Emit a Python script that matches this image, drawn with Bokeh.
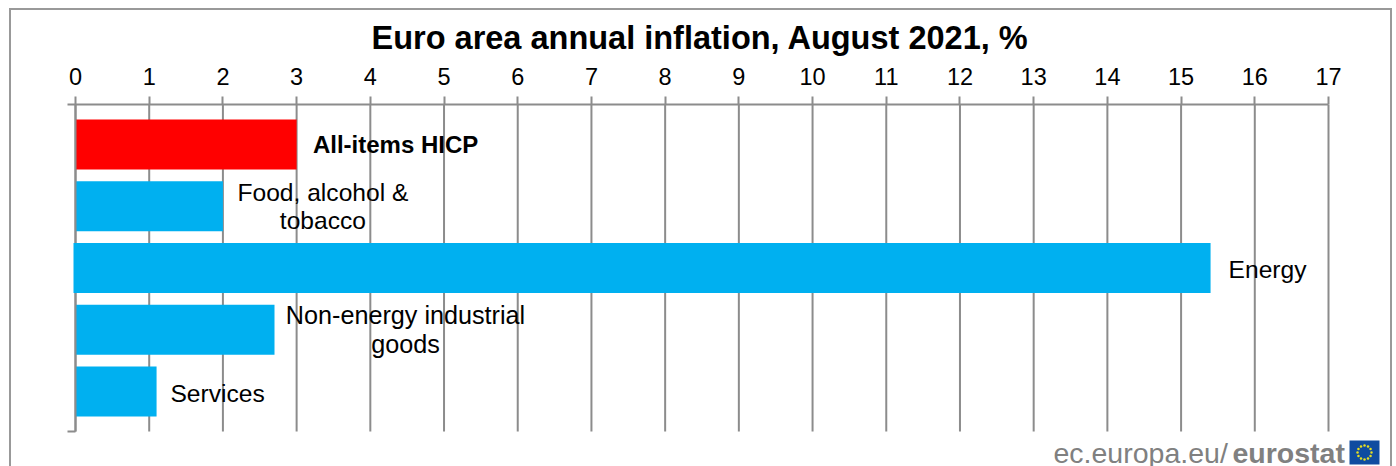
import math
from bokeh.plotting import figure
from bokeh.embed import file_html
from bokeh.resources import INLINE
from bokeh.models import Range1d, FixedTicker, Label, ColumnDataSource
from bokeh.core.properties import value

categories = ["All-items HICP", "Food, alcohol &\ntobacco", "Energy", "Non-energy industrial\ngoods", "Services"]
values = [3.0, 2.0, 15.4, 2.7, 1.1]
bar_colors = ["#FF0000", "#00B0F0", "#00B0F0", "#00B0F0", "#00B0F0"]
label_styles = ["bold", "normal", "normal", "normal", "normal"]
label_sizes = ["24px", "24.6px", "24.6px", "25.2px", "24.6px"]
x_ticks = list(range(0, 18))
title_text = "Euro area annual inflation, August 2021, %"

# layout only
label_x_offsets = [99, 100, 57, 131, 61]
label_y_offsets = [0, 0, 1, 0, 2]
GRAY = "#8C8C8C"
FONT = "Liberation Sans"
W, H = 1396, 466
X_PX = 1253 / 17  # pixels per x unit
Y_PX = 61.75      # pixels per y unit
def dx(px): return (px - 75) / X_PX
def dy(py): return 0.5 + (py - 144) / Y_PX

y_top, y_bot = dy(104), dy(431)
positions = [i + 0.5 for i in range(len(categories))]

# The plot frame runs to the page's edges, so the signature below the axis is not clipped away.
edge = "linear-gradient(#999999,#999999)"
frame_css = (f"{edge} 9px 8px / 2px 100% no-repeat, "
             f"{edge} 1390px 8px / 2px 100% no-repeat, "
             f"{edge} 9px 8px / 1383px 2px no-repeat")

p = figure(width=W, height=H,
           x_range=Range1d(dx(0), dx(W)), y_range=Range1d(dy(H), dy(104)),
           x_axis_location="above", y_axis_location=None,
           output_backend="svg", toolbar_location=None,
           min_border_left=0, min_border_right=0, min_border_top=104, min_border_bottom=0,
           title=title_text, styles={"background": frame_css})
p.background_fill_color = None
p.border_fill_color = None
p.outline_line_color = None

p.title.align = "left"
p.title.offset = 371
p.title.text_font = FONT
p.title.text_font_size = "32.5px"
p.title.text_font_style = "bold"
p.title.text_color = "#000000"
p.title.standoff = 18

xa = p.xaxis[0]
xa.ticker = FixedTicker(ticks=x_ticks)
xa.bounds = (dx(67), 17)
xa.axis_line_color = GRAY
xa.axis_line_width = 2
xa.major_tick_line_color = GRAY
xa.major_tick_line_width = 2
xa.major_tick_in = 0
xa.major_tick_out = 8
xa.minor_tick_line_color = None
xa.major_label_text_font = FONT
xa.major_label_text_font_size = "23.5px"
xa.major_label_text_color = "#000000"
xa.major_label_standoff = 12

p.xgrid.visible = False
p.ygrid.visible = False
# grid lines stop at the axis end, well above the signature
p.segment(x0=x_ticks, x1=x_ticks, y0=[y_top] * len(x_ticks), y1=[y_bot] * len(x_ticks),
          line_color=GRAY, line_width=2)

BAR_H = 50 / Y_PX
src = ColumnDataSource(dict(y=positions, v=values, t=categories, s=label_styles,
                            o=label_x_offsets, u=label_y_offsets, z=label_sizes))
normal_idx = [i for i, v in enumerate(values) if v != max(values)]
top_idx = [i for i, v in enumerate(values) if v == max(values)]
nsrc = ColumnDataSource(dict(y=[positions[i] for i in normal_idx], v=[values[i] for i in normal_idx],
                             c=[bar_colors[i] for i in normal_idx]))
tsrc = ColumnDataSource(dict(y=[positions[i] for i in top_idx], v=[values[i] for i in top_idx],
                             c=[bar_colors[i] for i in top_idx], z=[0 for _ in top_idx],
                             y0=[positions[i] - BAR_H / 2 for i in top_idx],
                             y1=[positions[i] + BAR_H / 2 for i in top_idx]))
p.hbar(y="y", right="v", left=0, height=BAR_H, fill_color="c", line_color=None, source=nsrc)
# category axis line and its end tick: over the short bars, under the longest one
p.segment(x0=[0, dx(67)], x1=[0, 0], y0=[y_top, y_bot], y1=[y_bot, y_bot], line_color=GRAY, line_width=2)
p.hbar(y="y", right="v", left=0, height=BAR_H, fill_color="c", line_color=None, source=tsrc)
p.segment(x0="z", x1="z", y0="y0", y1="y1", line_color="#00B0F0", line_width=4, source=tsrc)

p.text(x="v", y="y", text="t", x_offset="o", y_offset="u", text_align="center", text_baseline="middle",
       text_font=value(FONT), text_font_size="z", text_font_style="s", text_color="#000000",
       text_line_height=1.05, source=src)

# Eurostat signature
p.add_layout(Label(x=dx(1053), y=dy(452), text="ec.europa.eu/", text_font=FONT, text_font_size="28.5px",
                   text_color="#808080", text_baseline="alphabetic"))
p.add_layout(Label(x=dx(1232), y=dy(452), text="eurostat", text_font=FONT, text_font_size="28.5px",
                   text_font_style="bold", text_color="#808080", text_baseline="alphabetic"))
p.quad(left=[dx(1349)], right=[dx(1379)], top=[dy(440)], bottom=[dy(464)], fill_color="#0F4CA0", line_color=None)
angles = [2 * math.pi * k / 12 for k in range(12)]
p.scatter(x=[dx(1364 + 7 * math.cos(a)) for a in angles], y=[dy(452 + 7 * math.sin(a)) for a in angles],
          marker="circle", size=2.5, fill_color="#E8E020", line_color=None)

open("out.html", "w").write(file_html(p, INLINE))
